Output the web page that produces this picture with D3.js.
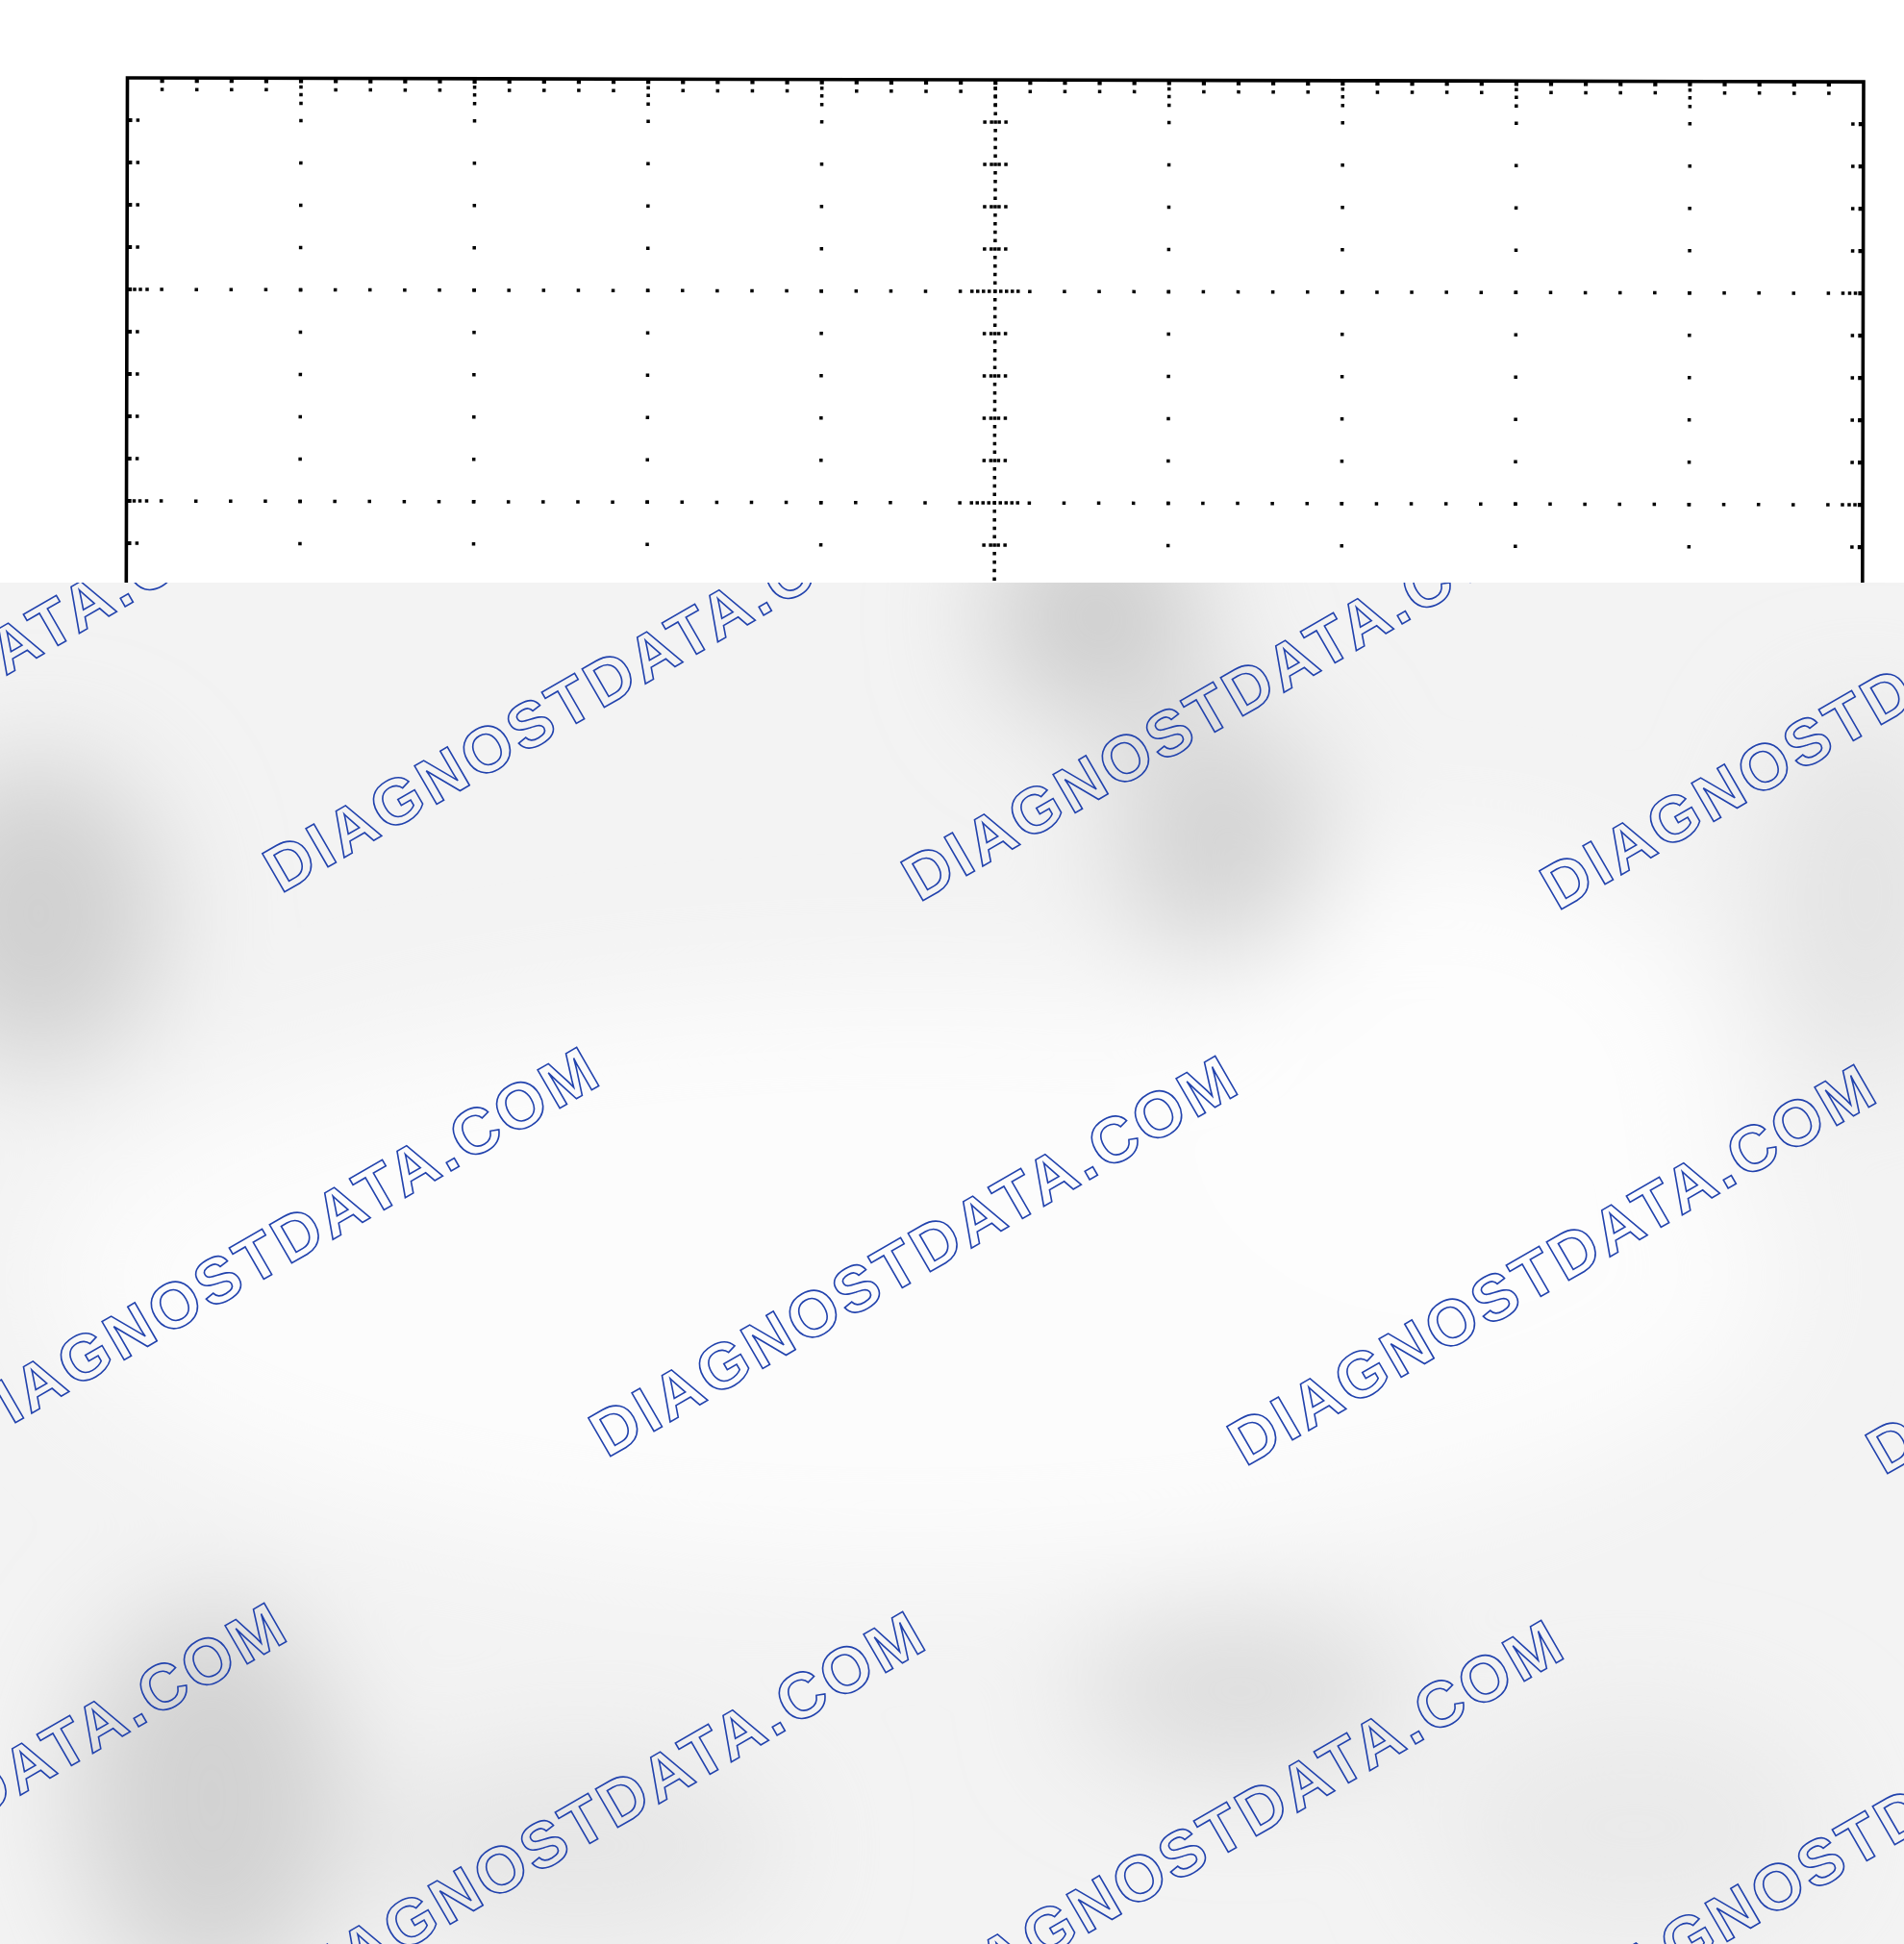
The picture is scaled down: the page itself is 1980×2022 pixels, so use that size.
<!DOCTYPE html>
<html>
<head>
<meta charset="utf-8">
<script src="https://cdn.jsdelivr.net/npm/d3@7/dist/d3.min.js"></script>
<style>
  body { margin: 0; background: #fff; }
  svg { display: block; }
</style>
</head>
<body>
<div id="chart-area"></div>
<script>
// graticule divisions (10 across, 8 down) and their subdivisions
var xDivs = [0, 1, 2, 3, 4, 5, 6, 7, 8, 9, 10]
var yDivs = [4, 3, 2, 1, 0, -1, -2, -3, -4]
var minorSteps = [0, 0.2, 0.4, 0.6, 0.8]
var fineSteps = [0, 0.04, 0.08, 0.12, 0.16, 0.2, 0.24, 0.28, 0.32, 0.36, 0.4, 0.44, 0.48,
                 0.52, 0.56, 0.6, 0.64, 0.68, 0.72, 0.76, 0.8, 0.84, 0.88, 0.92, 0.96]
var watermarkText = 'DIAGNOSTDATA.COM'

//SVG Making
var W = 1980, H = 2022
var svg = d3.select('#chart-area').append('svg')
    .attr('width', W)
    .attr('height', H)

var defs = svg.append('defs')

//1. scales
var xScale = d3.scaleLinear()
    .domain([0, 10])
    .range([132.5, 1938])

var yScale = d3.scaleLinear()
    .domain([4, -4])
    .range([81, 1841])

// minor / fine positions from the division arrays
function expand(divs, steps, dir) {
    var out = []
    divs.slice(0, -1).forEach(function(d){
        steps.forEach(function(s){ out.push(d + dir * s) })
    })
    out.push(divs[divs.length - 1])
    return out
}
var xMinor = expand(xDivs, minorSteps, 1)
var yMinor = expand(yDivs, minorSteps, -1)
var xFine = expand(xDivs, fineSteps, 1)
var yFine = expand(yDivs, fineSteps, -1)

function isMajor(v) { return Math.abs(v - Math.round(v)) < 1e-6 }
function isEdge(v, a, b) { return Math.abs(v - a) < 1e-6 || Math.abs(v - b) < 1e-6 }

var x0 = xScale(0), x1 = xScale(10), y0 = yScale(4), y1 = yScale(-4)
var cx = xScale(5), cy = yScale(0)

// every dot of the graticule goes in here
var dots = []
function dot(x, y, s) { dots.push({x: x, y: y, s: s || 3.5}) }

//2. dotted major grid lines
xDivs.forEach(function(xd){
    if (xd == 0 || xd == 10 || xd == 5) return
    yMinor.forEach(function(ym){
        if (isEdge(ym, 4, -4)) return
        dot(xScale(xd), yScale(ym))
    })
})
yDivs.forEach(function(yd){
    if (yd == 4 || yd == -4 || yd == 0) return
    xMinor.forEach(function(xm){
        if (isEdge(xm, 0, 10)) return
        dot(xScale(xm), yScale(yd))
    })
})

//3. centre axes: fine dots plus cross ticks
yFine.forEach(function(yf){
    if (isEdge(yf, 4, -4)) return
    dot(cx, yScale(yf))
})
xFine.forEach(function(xf){
    if (isEdge(xf, 0, 10)) return
    dot(xScale(xf), cy)
})
yMinor.forEach(function(ym){
    if (isEdge(ym, 4, -4)) return
    var y = yScale(ym)
    var offs = isMajor(ym) ? [6, 12, 18, 24] : [4, 11]
    offs.forEach(function(o){ dot(cx - o, y); dot(cx + o, y) })
})
xMinor.forEach(function(xm){
    if (isEdge(xm, 0, 10)) return
    var x = xScale(xm)
    var offs = isMajor(xm) ? [6, 12, 18, 24] : [4, 11]
    offs.forEach(function(o){ dot(x, cy - o); dot(x, cy + o) })
})

//4. ticks along the frame
xMinor.forEach(function(xm){
    if (isEdge(xm, 0, 10)) return
    var x = xScale(xm)
    var offs = isMajor(xm) ? [3, 9, 17, 26] : [3, 12]
    offs.forEach(function(o){
        var s = o == 3 ? 4.2 : 3.5
        dot(x, y0 + o, s); dot(x, y1 - o, s)
    })
})
yMinor.forEach(function(ym){
    if (isEdge(ym, 4, -4)) return
    var y = yScale(ym)
    var offs = isMajor(ym) ? [3, 8, 14, 21] : [3, 11]
    offs.forEach(function(o){
        var s = o == 3 ? 4.2 : 3.5
        dot(x0 + o, y, s); dot(x1 - o, y, s)
    })
})

// graticule group, the scan is tilted a hair
var grat = svg.append('g')
    .attr('transform', 'rotate(0.13,' + x0 + ',' + y0 + ')')

grat.append('rect')
    .attr('x', x0)
    .attr('y', y0)
    .attr('width', x1 - x0)
    .attr('height', y1 - y0)
    .attr('fill', 'none')
    .attr('stroke', '#000')
    .attr('stroke-width', 3.6)

grat.selectAll('rect.dot')
    .data(dots)
    .enter()
    .append('rect')
    .attr('class', 'dot')
    .attr('x', function(d){ return d.x - d.s / 2 })
    .attr('y', function(d){ return d.y - d.s / 2 })
    .attr('width', function(d){ return d.s })
    .attr('height', function(d){ return d.s })
    .attr('fill', '#000')

//5. grey smudged cover over the lower part
var coverTop = 606
defs.append('clipPath').attr('id', 'coverClip')
    .append('rect')
    .attr('x', 0).attr('y', coverTop)
    .attr('width', W).attr('height', H - coverTop)

defs.append('filter').attr('id', 'soft')
    .attr('x', '-50%').attr('y', '-50%').attr('width', '200%').attr('height', '200%')
    .append('feGaussianBlur')
    .attr('stdDeviation', 60)

var cover = svg.append('g').attr('clip-path', 'url(#coverClip)')

cover.append('rect')
    .attr('x', 0).attr('y', coverTop)
    .attr('width', W).attr('height', H - coverTop)
    .attr('fill', '#f3f3f3')

var smudges = [
    {x: 950,  y: 1330, rx: 900, ry: 300, c: '#fcfcfc'},
    {x: 1500, y: 1150, rx: 300, ry: 260, c: '#fdfdfd'},
    {x: 40,   y: 950,  rx: 130, ry: 160, c: '#d0d0d0'},
    {x: 1140, y: 640,  rx: 110, ry: 110, c: '#cccccc'},
    {x: 1270, y: 870,  rx: 110, ry: 130, c: '#d3d3d3'},
    {x: 1940, y: 930,  rx: 110, ry: 190, c: '#e4e4e4'},
    {x: 220,  y: 1870, rx: 140, ry: 200, c: '#d2d2d2'},
    {x: 1290, y: 1760, rx: 170, ry: 80,  c: '#dcdcdc'},
    {x: 600,  y: 1920, rx: 220, ry: 100, c: '#e6e6e6'},
    {x: 1700, y: 1900, rx: 200, ry: 120, c: '#eaeaea'}
]

cover.append('g')
    .attr('filter', 'url(#soft)')
    .selectAll('ellipse')
    .data(smudges)
    .enter()
    .append('ellipse')
    .attr('cx', function(d){ return d.x })
    .attr('cy', function(d){ return d.y })
    .attr('rx', function(d){ return d.rx })
    .attr('ry', function(d){ return d.ry })
    .attr('fill', function(d){ return d.c })

//6. watermark lattice
var origin = [631, 1517], stepA = [664, 9], stepB = [339, 587]
var marks = []
;[-3, -2, -1, 0, 1, 2, 3].forEach(function(i){
    ;[-2, -1, 0, 1, 2].forEach(function(j){
        marks.push([origin[0] + i * stepA[0] + j * stepB[0], origin[1] + i * stepA[1] + j * stepB[1]])
    })
})

cover.selectAll('text.wm')
    .data(marks)
    .enter()
    .append('text')
    .attr('class', 'wm')
    .attr('transform', function(d){ return 'translate(' + d[0] + ',' + d[1] + ') rotate(-30)' })
    .style('font-family', '"Liberation Sans", Arial, Helvetica, sans-serif')
    .style('font-weight', '700')
    .attr('font-size', '67px')
    .attr('letter-spacing', '3.8px')
    .attr('fill', 'none')
    .attr('stroke', '#2142ad')
    .attr('stroke-width', 1.6)
    .text(watermarkText)
</script>
</body>
</html>
